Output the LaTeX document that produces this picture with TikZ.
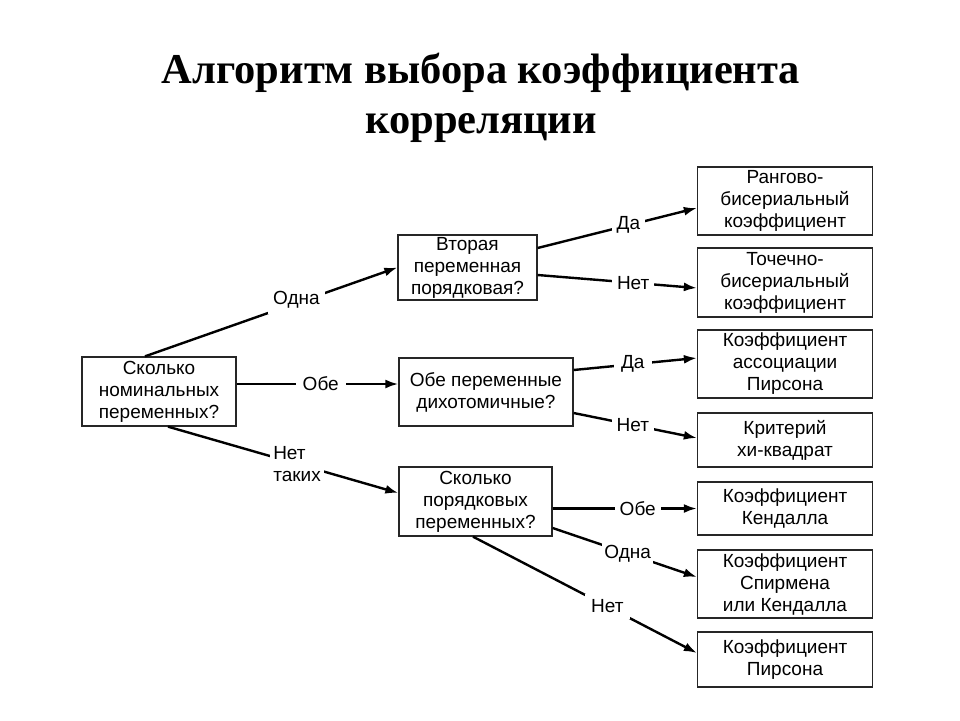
\documentclass[tikz,border=0pt]{standalone}
\usepackage{fontspec}
\setmainfont{Liberation Sans}
\newfontfamily\titlefont{Liberation Serif}
\usetikzlibrary{arrows.meta,calc}
\begin{document}
\begin{tikzpicture}[x=1pt,y=-1pt,
  box/.style={draw=black!85, line width=1.3pt, align=center, inner sep=0pt,
    font=\fontsize{19}{22}\selectfont},
  lbl/.style={fill=white, inner sep=5pt, font=\fontsize{19}{22}\selectfont},
  conn/.style={line width=2.4pt, -{Latex[length=13pt,width=9pt]}}]
\fill[white] (0,0) rectangle (960,720);
\useasboundingbox (0,0) rectangle (960,720);
\node[font=\titlefont\bfseries\fontsize{42.5}{50}\selectfont, align=center] (title) at (481,98) {Алгоритм выбора коэффициента\\корреляции};
% boxes
\node[box, minimum width=154, minimum height=69] (A) at (159,391.5) {Сколько\\номинальных\\переменных?};
\node[box, minimum width=139, minimum height=65] (B) at (467.5,267.5) {Вторая\\переменная\\порядковая?};
\node[box, minimum width=174, minimum height=68] (C) at (486,392) {Обе переменные\\дихотомичные?};
\node[box, minimum width=153, minimum height=69] (D) at (475.5,501.5) {Сколько\\порядковых\\переменных?};
\node[box, minimum width=175, minimum height=68] (R1) at (785,201) {Рангово-\\бисериальный\\коэффициент};
\node[box, minimum width=175, minimum height=69] (R2) at (785,282.5) {Точечно-\\бисериальный\\коэффициент};
\node[box, minimum width=175, minimum height=68] (R3) at (785,364) {Коэффициент\\ассоциации\\Пирсона};
\node[box, minimum width=175, minimum height=54] (R4) at (785,440) {Критерий\\хи-квадрат};
\node[box, minimum width=175, minimum height=53] (R5) at (785,508.5) {Коэффициент\\Кендалла};
\node[box, minimum width=175, minimum height=68] (R6) at (785,584) {Коэффициент\\Спирмена\\или Кендалла};
\node[box, minimum width=175, minimum height=55] (R7) at (785,659.5) {Коэффициент\\Пирсона};
% connectors
\draw[conn] ([xshift=-14pt]A.north) -- node[lbl, pos=0.6, yshift=3pt] {Одна} (B.west);
\draw[conn] ([yshift=7.5pt]A.east) -- node[lbl, pos=0.52, inner sep=7pt] {Обе} ([yshift=8pt]C.west);
\draw[conn] ([xshift=9pt]A.south) -- node[lbl, pos=0.56, align=left, inner sep=3pt] {Нет\\таких} ([yshift=8.5pt]D.west);
\draw[conn] ([yshift=19.5pt]B.east) -- node[lbl, pos=0.57] {Да} ([yshift=-7pt]R1.west);
\draw[conn] ([yshift=-7.5pt]B.east) -- node[lbl, pos=0.6] {Нет} ([yshift=-5.5pt]R2.west);
\draw[conn] ([yshift=22pt]C.east) -- node[lbl, pos=0.48, inner sep=7pt] {Да} ([yshift=6pt]R3.west);
\draw[conn] ([yshift=-21pt]C.east) -- node[lbl, pos=0.48] {Нет} ([yshift=2pt]R4.west);
\draw[conn] ([yshift=-7pt]D.east) -- node[lbl, pos=0.59] {Обе} (R5.west);
\draw[conn] ([yshift=-26.5pt]D.east) -- node[lbl, pos=0.52, inner sep=2pt] {Одна} ([yshift=7pt]R6.west);
\draw[conn] ([xshift=-2.5pt]D.south) -- node[lbl, pos=0.6, inner sep=6pt] {Нет} ([yshift=6.5pt]R7.west);
\end{tikzpicture}
\end{document}
